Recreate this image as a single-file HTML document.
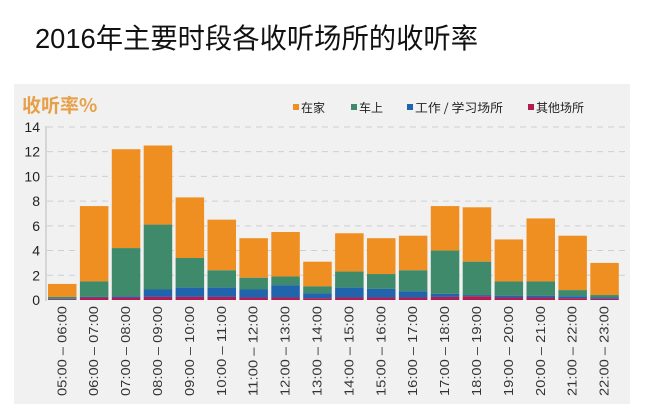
<!DOCTYPE html>
<html><head><meta charset="utf-8"><style>
body{margin:0;width:647px;height:411px;background:#fff;overflow:hidden}
svg{display:block}
</style></head><body>
<svg width="647" height="411" xmlns="http://www.w3.org/2000/svg" font-family="Liberation Sans, Noto Sans CJK SC, sans-serif">
<text x="35" y="48" font-size="28" fill="#111" textLength="443" lengthAdjust="spacingAndGlyphs" font-family="Liberation Sans, Noto Sans CJK SC, sans-serif">2016年主要时段各收听场所的收听率</text>
<rect x="14" y="84" width="616" height="320" fill="#f1f1f1"/>
<text x="22" y="112" font-size="19" font-weight="bold" fill="#e7a04a" font-family="Noto Sans CJK SC, sans-serif">收听率%</text>
<g font-size="12" fill="#222" font-family="Noto Sans CJK SC, sans-serif">
<rect x="293" y="104" width="6" height="6" fill="#ef8f22"/><text x="301" y="112">在家</text>
<rect x="351" y="104" width="6" height="6" fill="#3e8a6a"/><text x="359" y="112">车上</text>
<rect x="407" y="104" width="6" height="6" fill="#1f64ad"/><text x="415" y="112" textLength="88" lengthAdjust="spacingAndGlyphs">工作 / 学习场所</text>
<rect x="528" y="104" width="6" height="6" fill="#b01d52"/><text x="536" y="112">其他场所</text>
</g>
<g id="grid" stroke="#cfcfcf" stroke-dasharray="6,5" stroke-width="1"></g>
<g id="yl" font-size="14" fill="#222" text-anchor="end"></g>
<line x1="46" y1="126" x2="46" y2="301" stroke="#bbb"/>
<g id="bars"></g>
<g id="xl" font-size="12.5" fill="#333"></g>
<script>
var NS="http://www.w3.org/2000/svg";
function el(p,t,a,txt){var e=document.createElementNS(NS,t);for(var k in a)e.setAttribute(k,a[k]);if(txt)e.textContent=txt;document.getElementById(p).appendChild(e);}
function Y(v){return 300-12.36*v;}
for(var i=0;i<=7;i++){var v=i*2;if(i>0)el("grid","line",{x1:47,x2:625,y1:Y(v),y2:Y(v)});el("yl","text",{x:40,y:Y(v)+5},String(v));}
var tot=[1.3,7.6,12.2,12.5,8.3,6.5,5.0,5.5,3.1,5.4,5.0,5.2,7.6,7.5,4.9,6.6,5.2,3.0];
var gr=[0.25,1.5,4.2,6.1,3.4,2.4,1.8,1.9,1.1,2.3,2.1,2.4,4.0,3.1,1.5,1.5,0.8,0.4];
var bl=[0.1,0.25,0.3,0.85,1.0,1.0,0.85,1.2,0.55,1.0,0.9,0.7,0.5,0.4,0.35,0.35,0.3,0.2];
var pu=[0.05,0.2,0.2,0.25,0.25,0.25,0.2,0.2,0.15,0.2,0.2,0.2,0.25,0.3,0.2,0.2,0.15,0.1];
for(var i=0;i<18;i++){
 var x=48+i*31.9,w=28.5;
 el("bars","rect",{x:x,y:Y(tot[i]),width:w,height:Y(gr[i])-Y(tot[i]),fill:"#ef8f22"});
 el("bars","rect",{x:x,y:Y(gr[i]),width:w,height:Y(bl[i])-Y(gr[i]),fill:"#3e8a6a"});
 el("bars","rect",{x:x,y:Y(bl[i]),width:w,height:Y(pu[i])-Y(bl[i]),fill:"#1f64ad"});
 el("bars","rect",{x:x,y:Y(pu[i]),width:w,height:Y(0)-Y(pu[i]),fill:"#b01d52"});
 var h1=5+i,h2=6+i;function f(h){return (h<10?"0":"")+h+":00";}
 var cx=x+w/2+4;
 el("xl","text",{x:cx,y:396,transform:"rotate(-90 "+cx+" 396)",textLength:90,lengthAdjust:"spacingAndGlyphs"},f(h1)+" – "+f(h2));
}
</script>
</svg>
</body></html>
